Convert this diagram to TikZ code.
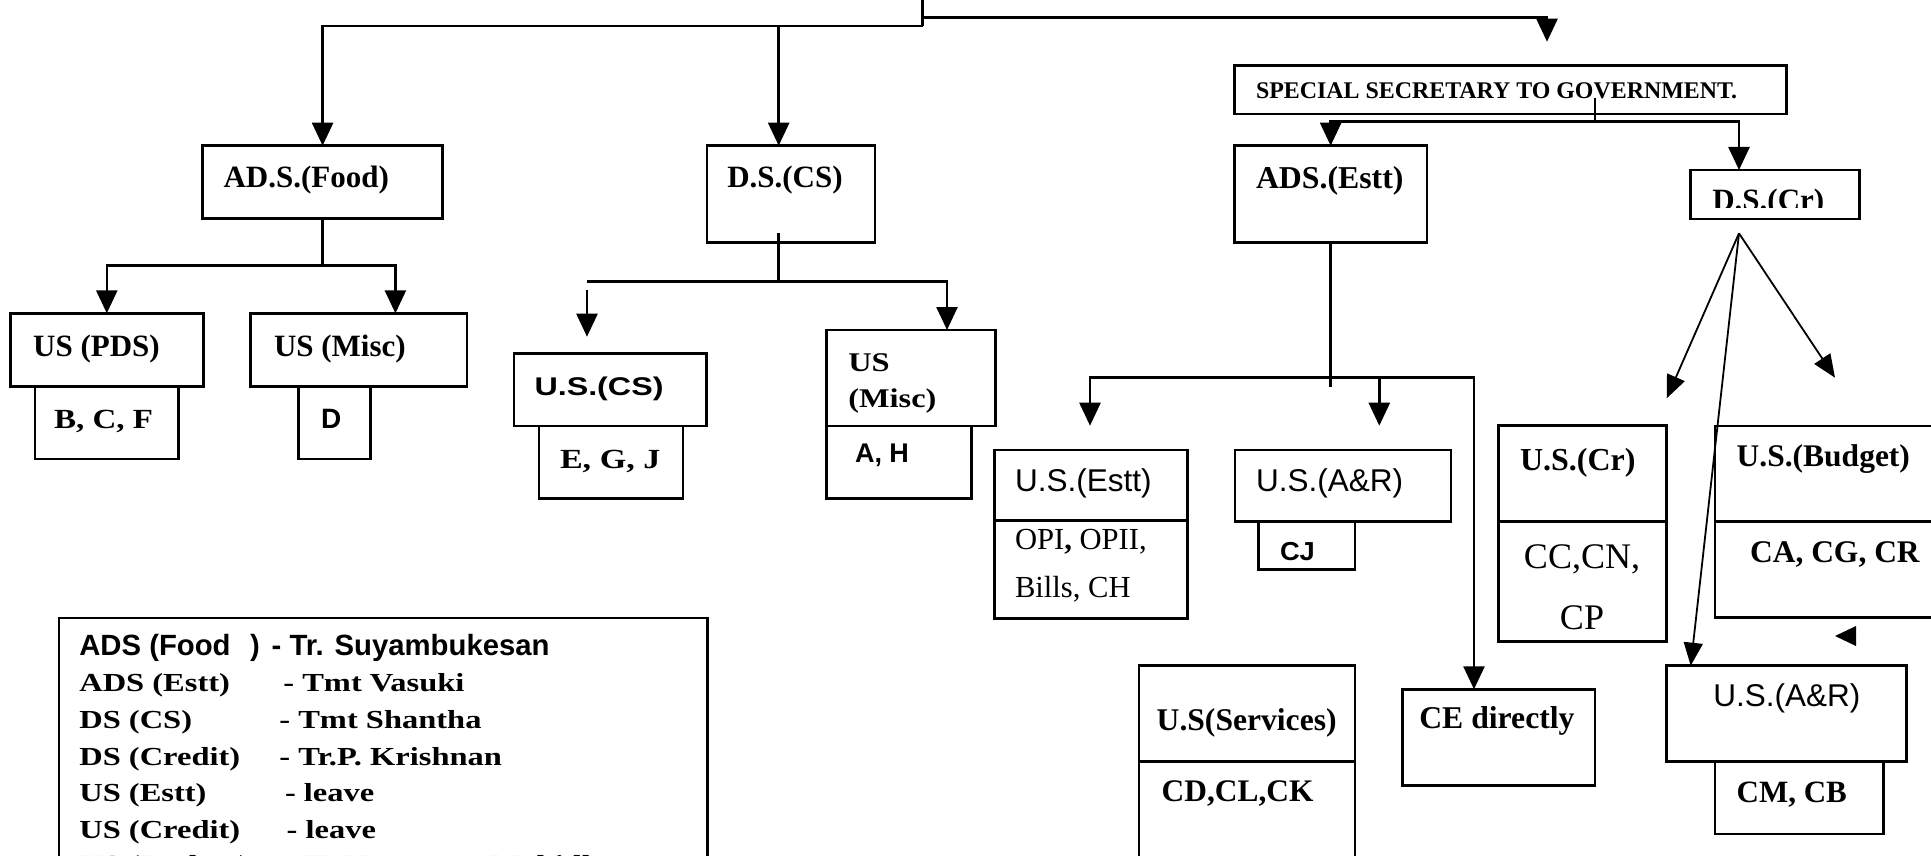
\documentclass[tikz,border=0pt]{standalone}
\usepackage{fontspec}
\usepackage{graphicx}
\setmainfont{Liberation Serif}
\setsansfont{Liberation Sans}
\usetikzlibrary{arrows.meta}
\newcommand\myfs[1]{\fontsize{#1}{#1}\selectfont}
\newcommand\wid[2]{\scalebox{#1}[1]{#2}}
\tikzset{
  bx/.style={draw, line width=2.8pt, inner sep=0pt, outer sep=0pt},
  ln/.style={line width=2.6pt},
  arr/.style={line width=2.6pt, -{Triangle[length=23pt,width=21pt]}},
  diag/.style={line width=1.8pt, -{Triangle[length=23pt,width=19pt]}},
  tx/.style={anchor=base west, inner sep=0pt, outer sep=0pt},
  tb/.style={tx, font=\myfs{31}\bfseries},
  tbs/.style={tx, font=\myfs{27.7}\bfseries},
  sr/.style={tx, font=\myfs{31.5}\sffamily},
  sb/.style={tx, font=\myfs{25.6}\sffamily\bfseries},
  lg/.style={tx, font=\myfs{26}\bfseries},
  lgs/.style={tx, font=\myfs{29.3}\sffamily\bfseries},
}
\begin{document}
\begin{tikzpicture}[x=1pt,y=-1pt]
\clip (0,0) rectangle (1931,856);
\fill[white] (0,0) rectangle (1931,856);
% ---------- boxes ----------
\node[bx, minimum width=240pt, minimum height=73pt] (food) at (322.6,182.2) {};
\node[bx, minimum width=168pt, minimum height=96.6pt] (dscs) at (791,194) {};
\node[bx, minimum width=552.5pt, minimum height=48.3pt] (ss) at (1510.5,89.85) {};
\node[bx, minimum width=192.7pt, minimum height=96.6pt] (adsestt) at (1330.65,194) {};
\node[bx, minimum width=168.6pt, minimum height=49pt] (dscr) at (1775,194.5) {};
\node[bx, minimum width=192.7pt, minimum height=73.4pt] (uspds) at (107.15,350) {};
\node[bx, minimum width=143.6pt, minimum height=72.3pt] (bcf) at (106.8,422.85) {};
\node[bx, minimum width=216.2pt, minimum height=73.4pt] (usmisc1) at (358.8,350) {};
\node[bx, minimum width=72.1pt, minimum height=72.3pt] (dbox) at (334.55,422.85) {};
\node[bx, minimum width=192.7pt, minimum height=72.7pt] (uscs) at (610.35,389.65) {};
\node[bx, minimum width=144pt, minimum height=72.3pt] (egj) at (611,462.15) {};
\node[bx, minimum width=169pt, minimum height=96pt] (usmisc2) at (911.1,378) {};
\node[bx, minimum width=144.8pt, minimum height=72.3pt] (ah) at (899,462.15) {};
\node[bx, minimum width=193pt, minimum height=70.7pt] (usestt) at (1090.8,485.35) {};
\node[bx, minimum width=193pt, minimum height=97.6pt] (usestt2) at (1090.8,569.5) {};
\node[bx, minimum width=216pt, minimum height=71.7pt] (usar1) at (1343,485.85) {};
\node[bx, minimum width=96.7pt, minimum height=47.6pt] (cj) at (1306.65,545.5) {};
\node[bx, minimum width=167.9pt, minimum height=96pt] (uscr) at (1582.75,473.7) {};
\node[bx, minimum width=167.9pt, minimum height=120pt] (uscr2) at (1582.75,581.7) {};
\node[bx, minimum width=220pt, minimum height=95.7pt] (usbud) at (1825,473.85) {};
\node[bx, minimum width=220pt, minimum height=95.6pt] (usbud2) at (1825,569.5) {};
\node[bx, minimum width=216pt, minimum height=96pt] (ussrv) at (1247,713.7) {};
\node[bx, minimum width=216pt, minimum height=138.3pt] (ussrv2) at (1247,830.85) {};
\node[bx, minimum width=192.3pt, minimum height=96.4pt] (ce) at (1498.85,737.5) {};
\node[bx, minimum width=240pt, minimum height=96pt] (usar2) at (1786.7,713.7) {};
\node[bx, minimum width=168.3pt, minimum height=72.3pt] (cmcb) at (1799.15,797.85) {};
\node[bx, minimum width=648.7pt, minimum height=282pt] (legend) at (383.35,759) {};
% ---------- texts ----------
\node[tb] (t-food) at (223.5,187.3) {AD.S.(Food)};
\node[tb] (t-dscs) at (727.3,187.3) {D.S.(CS)};
\node[tx, font=\myfs{23.9}\bfseries] (t-ss) at (1256,99) {SPECIAL SECRETARY TO GOVERNMENT.};
\node[tx, font=\myfs{31.8}\bfseries] (t-adsestt) at (1256,188.3) {ADS.(Estt)};
\begin{scope}
\clip (1690,170) rectangle (1860,207.3);
\node[tb] (t-dscr) at (1712.3,210.1) {D.S.(Cr)};
\end{scope}
\node[tb] (t-uspds) at (33.2,356.7) {US (PDS)};
\node[tbs] (t-bcf) at (54.2,428.3) {\wid{1.19}{B, C, F}};
\node[tb] (t-usmisc1) at (274,356.7) {US (Misc)};
\node[tx, font=\myfs{28}\sffamily\bfseries] (t-d) at (321,428) {D};
\node[sb] (t-uscs) at (534.5,395) {\wid{1.26}{U.S.(CS)}};
\node[tbs] (t-egj) at (560,468.3) {\wid{1.23}{E, G, J}};
\node[tx, font=\myfs{27}\bfseries] (t-us2) at (848.3,371.7) {\wid{1.2}{US}};
\node[tx, font=\myfs{27}\bfseries] (t-misc2) at (848.3,407) {\wid{1.2}{(Misc)}};
\node[tx, font=\myfs{27}\sffamily\bfseries] (t-ah) at (855,462) {A, H};
\node[sr] (t-usestt) at (1015,491.7) {U.S.(Estt)};
\node[tx, font=\myfs{30.6}] (t-opi) at (1015,549) {OPI\textbf{,} OPII,};
\node[tx, font=\myfs{30.6}] (t-bills) at (1015,597.3) {Bills, CH};
\node[sr] (t-usar1) at (1256,491.7) {U.S.(A\&R)};
\node[tx, font=\myfs{26}\sffamily\bfseries] (t-cj) at (1280,560) {\wid{1.05}{CJ}};
\node[tx, font=\myfs{32}\bfseries] (t-uscr) at (1520,470) {U.S.(Cr)};
\node[tx, font=\myfs{36}, anchor=base] (t-cc) at (1582,568) {CC,CN,};
\node[tx, font=\myfs{36}, anchor=base] (t-cp) at (1582,629) {CP};
\node[tx, font=\myfs{31.5}\bfseries] (t-usbud) at (1736.7,466.7) {U.S.(Budget)};
\node[tx, font=\myfs{31.5}\bfseries] (t-cacg) at (1750,562.7) {CA, CG, CR};
\node[tx, font=\myfs{31.6}\bfseries] (t-ussrv) at (1156.7,730) {U.S(Services)};
\node[tx, font=\myfs{31.4}\bfseries] (t-cdcl) at (1161.7,801.7) {CD,CL,CK};
\node[tx, font=\myfs{31.7}\bfseries] (t-ce) at (1419.3,728.3) {CE directly};
\node[sr] (t-usar2) at (1713.3,706) {U.S.(A\&R)};
\node[tb] (t-cmcb) at (1736.7,802.3) {CM, CB};
% legend
\node[lgs] (l1a) at (79.3,655) {ADS (Food};
\node[lgs] (l1b) at (250,655) {)};
\node[lgs] (l1c) at (271.7,655) {- Tr. Suyambukesan};
\node[lg] (l2a) at (79.3,691.7) {\wid{1.25}{ADS (Estt)}};
\node[lg] (l2b) at (283.3,691.7) {\wid{1.25}{- Tmt Vasuki}};
\node[lg] (l3a) at (79.3,728.3) {\wid{1.25}{DS (CS)}};
\node[lg] (l3b) at (279.3,728.3) {\wid{1.25}{- Tmt Shantha}};
\node[lg] (l4a) at (79.3,765) {\wid{1.25}{DS (Credit)}};
\node[lg] (l4b) at (279.3,765) {\wid{1.25}{- Tr.P. Krishnan}};
\node[lg] (l5a) at (79.3,801.7) {\wid{1.25}{US (Estt)}};
\node[lg] (l5b) at (285,801.7) {\wid{1.25}{- leave}};
\node[lg] (l6a) at (79.3,838.3) {\wid{1.25}{US (Credit)}};
\node[lg] (l6b) at (286.7,838.3) {\wid{1.25}{- leave}};
\node[lg] (l7a) at (79.3,873) {\wid{1.25}{US (Budget)}};
\node[lg] (l7b) at (286.7,873) {\wid{1.25}{- Tr.Narayana Mahidharan}};
% ---------- connectors ----------
\coordinate (t0) at (922.6,-3);
\coordinate (tj) at (922.6,26);
\coordinate (tr) at (922.6,17.3);
\coordinate (sstip) at (1547,41.7);
\coordinate (dscsin) at (778.7,145.7);
\draw[ln] (t0) -- (tj);
\draw[arr] (tj) -| (food.north);
\draw[arr] (tj -| dscsin) -- (dscsin);
\draw[arr] (tr) -| (sstip);
% food children
\coordinate (fj) at (322.6,265.7);
\coordinate (pdsin) at (106.8,313.3);
\coordinate (misc1in) at (395.4,313.3);
\draw[ln] (food.south) -- (fj);
\draw[arr] (fj) -| (pdsin);
\draw[arr] (fj) -| (misc1in);
% dscs children
\coordinate (dsin) at (778.7,233);
\coordinate (dsj) at (778.7,281.7);
\coordinate (dsl) at (587,281.7);
\coordinate (dsr) at (947,281.7);
\coordinate (cs0) at (587,290);
\coordinate (cstip) at (587,336.7);
\draw[ln] (dsin) -- (dsj);
\draw[arr] (dsl) -- (dsr) -- (dsr |- usmisc2.north);
\draw[arr] (cs0) -- (cstip);
% special secretary children
\coordinate (ssin) at (1594.8,98);
\coordinate (ssj) at (1594.8,121.7);
\coordinate (dscrin) at (1739,170);
\draw[ln] (ssin) -- (ssj);
\draw[arr] (ssj) -| (adsestt.north);
\draw[arr] (ssj) -| (dscrin);
% ADS (Estt) children
\coordinate (eb) at (1330.3,242.3);
\coordinate (ej) at (1330.3,386.7);
\coordinate (el) at (1090,377.7);
\coordinate (er) at (1474,377.7);
\coordinate (usesttip) at (1090,425.7);
\coordinate (ear0) at (1379.3,377.7);
\coordinate (eartip) at (1379.3,425.7);
\draw[ln] (eb) -- (ej);
\draw[arr] (er) -- (el) -- (usesttip);
\draw[arr] (el) -- (er) -- (er |- ce.north);
\draw[arr] (ear0) -- (eartip);
% D.S.(Cr) children
\coordinate (apex) at (1739,233.3);
\coordinate (d1) at (1666.7,398.3);
\coordinate (d2) at (1835,377.7);
\coordinate (d3) at (1690.7,665.7);
\draw[diag] (apex) -- (d1);
\draw[diag] (apex) -- (d2);
\draw[diag] (apex) -- (d3);
% stray arrowhead
\fill (1835,636) -- (1856,626) -- (1856,646) -- cycle;
\end{tikzpicture}
\end{document}
